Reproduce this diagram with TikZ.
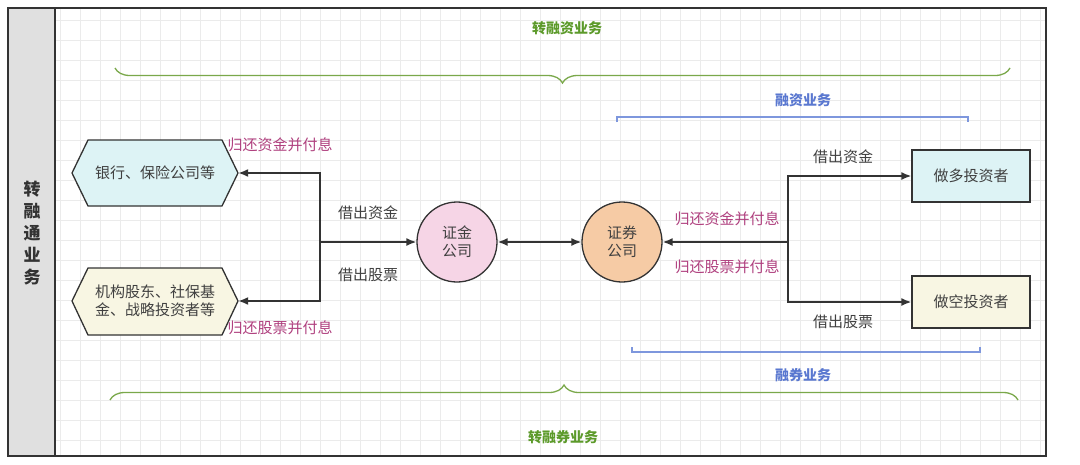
\documentclass[tikz,border=0pt]{standalone}
\usepackage{fontspec}
\setmainfont{Noto Sans CJK SC}
\usetikzlibrary{arrows.meta,positioning,decorations.pathreplacing}
\definecolor{cyanfill}{HTML}{DDF3F5}
\definecolor{yelfill}{HTML}{F8F6E3}
\definecolor{pinkfill}{HTML}{F6D5E6}
\definecolor{peachfill}{HTML}{F6CBA5}
\definecolor{magtext}{HTML}{B0417F}
\definecolor{greenline}{HTML}{7AA84A}
\definecolor{greentext}{HTML}{5C9A2A}
\definecolor{blueline}{HTML}{7E97DD}
\definecolor{bluetext}{HTML}{5A78D0}
\begin{document}
\begin{tikzpicture}[x=1pt,y=-1pt,font=\fontsize{15}{18}\selectfont]
        % Define block styles
        \tikzset{
          boxnode/.style={rectangle, draw=black!80, line width=1.3pt, minimum width=118pt, minimum height=52pt},
          hexnode/.style={minimum width=166pt, minimum height=66pt, align=center, text=black!75},
          roundnode/.style={circle, draw=black!80, line width=1.3pt, minimum size=80pt, align=center, text=black!75},
          line/.style={draw=black!80, line width=1.6pt, -{Latex[length=10pt,width=8pt]}},
          grey/.style={text=black!75},
          pay/.style={text=magtext},
          title/.style={font=\fontsize{14}{17}\selectfont\bfseries}
        }
        \useasboundingbox (0,0) rectangle (1080,464);
        \fill[white] (0,0) rectangle (1080,464);
        \draw[black!8] (55,8) grid[step=20pt] (1046,456);
        \draw[black!80, line width=1.3pt] (8,8) rectangle (1046,456);
        \filldraw[fill=black!12, draw=black!80, line width=1.3pt] (8,8) rectangle (55,456);
        \node[font=\fontsize{17}{22}\selectfont\bfseries, align=center, text=black!80] (side) at (32,233) {转\\融\\通\\业\\务};

        % Define nodes
        \filldraw[fill=cyanfill, draw=black!80, line width=1.3pt] (72,173) -- (88,140) -- (222,140) -- (238,173) -- (222,206) -- (88,206) -- cycle;
        \filldraw[fill=yelfill, draw=black!80, line width=1.3pt] (72,301) -- (88,268) -- (222,268) -- (238,301) -- (222,335) -- (88,335) -- cycle;
        \node[hexnode] (bank) at (155,173) {银行、保险公司等};
        \node[hexnode] (inst) at (155,301) {机构股东、社保基\\金、战略投资者等};
        \node[roundnode, fill=pinkfill] (zj) at (457,242) {证金\\公司};
        \node[roundnode, fill=peachfill] (zq) at (622,242) {证券\\公司};
        \node[boxnode, fill=cyanfill, grey] (long) at (971,176) {做多投资者};
        \node[boxnode, fill=yelfill, grey] (short) at (971,302) {做空投资者};
        \coordinate (lj) at (320,242);
        \coordinate (rj) at (788,242);

        % Connect nodes with paths
        \draw[line] (lj) |- (bank.east);
        \draw[line] (lj) |- (inst.east);
        \draw[line] (lj) -- (zj);
        \draw[line, {Latex[length=10pt,width=8pt]}-{Latex[length=10pt,width=8pt]}] (zj) -- (zq);
        \draw[line] (rj) -- (zq);
        \draw[line] (rj) |- (long.west);
        \draw[line] (rj) |- (short.west);

        % Labels
        \node[pay] (l1) at (280,145) {归还资金并付息};
        \node[grey] (l2) at (368,213) {借出资金};
        \node[grey] (l3) at (368,275) {借出股票};
        \node[pay] (l4) at (280,328) {归还股票并付息};
        \node[grey] (r1) at (843,157) {借出资金};
        \node[pay] (r2) at (727,219) {归还资金并付息};
        \node[pay] (r3) at (727,267) {归还股票并付息};
        \node[grey] (r4) at (843,322) {借出股票};

        % Braces and brackets
        \draw[greenline, line width=1.3pt, decorate, decoration={brace, amplitude=15pt, mirror}] (115,68) -- (1010,68);
        \node[title, text=greentext] (top) at (567,28) {转融资业务};
        \draw[greenline, line width=1.3pt, decorate, decoration={brace, amplitude=15pt}] (110,400) -- (1018,400);
        \node[title, text=greentext] (bot) at (563,437) {转融券业务};
        \draw[blueline, line width=1.3pt] (617,122) -- (617,117) -- (968,117) -- (968,122);
        \node[title, text=bluetext] (fin) at (803,100) {融资业务};
        \draw[blueline, line width=1.3pt] (632,347) -- (632,352) -- (980,352) -- (980,347);
        \node[title, text=bluetext] (sec) at (803,375) {融券业务};
\end{tikzpicture}
\end{document}
